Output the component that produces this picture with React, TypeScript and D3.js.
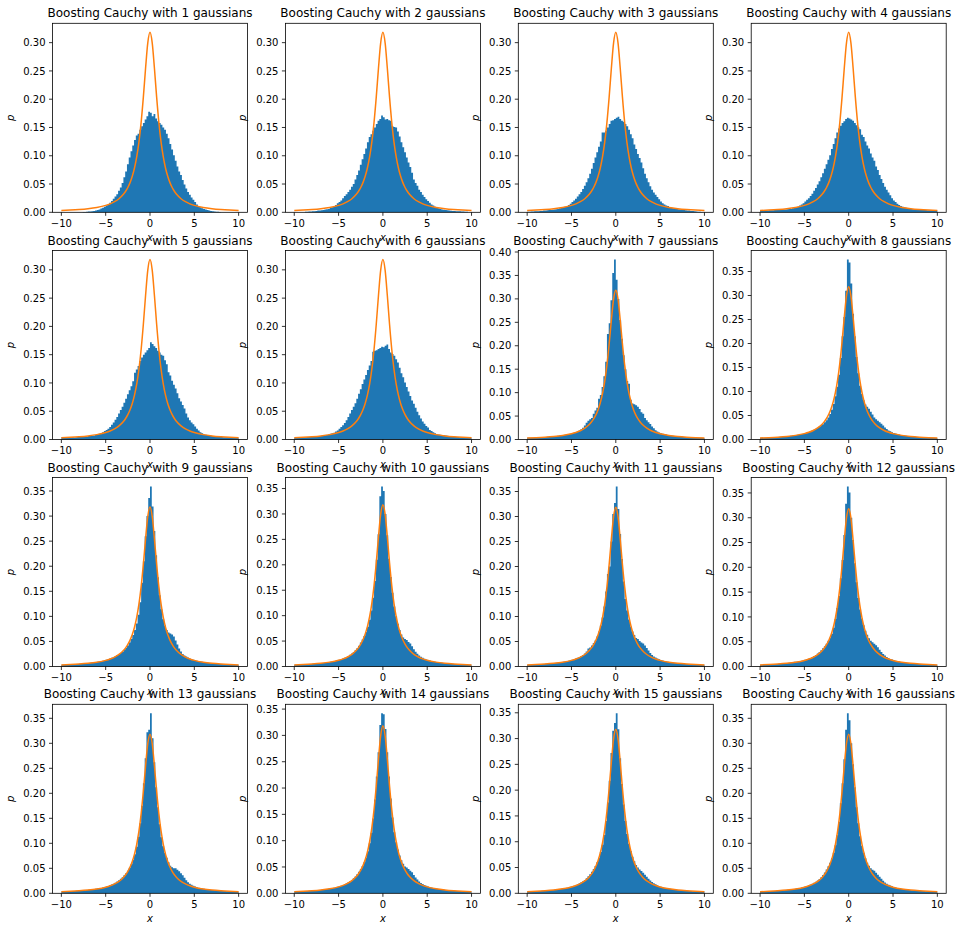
import React from 'react';
import * as d3 from 'd3';

// ---------- data ----------
const N_GAUSSIANS = [1, 2, 3, 4, 5, 6, 7, 8, 9, 10, 11, 12, 13, 14, 15, 16];
const BIN_MIN = -10;
const BIN_MAX = 10;
const X_TICKS = [-10, -5, 0, 5, 10];
const Y_TICK_STEP = 0.05;

// target density (orange line), read at these x positions
const CURVE_X = [-10, -9, -8, -7, -6, -5, -4.5, -4, -3.5, -3, -2.75, -2.5, -2.25, -2, -1.75, -1.5, -1.25, -1, -0.75, -0.5, -0.25,
  0, 0.25, 0.5, 0.75, 1, 1.25, 1.5, 1.75, 2, 2.25, 2.5, 2.75, 3, 3.5, 4, 4.5, 5, 6, 7, 8, 9, 10];
const CURVE_Y = [0.00315, 0.00388, 0.0049, 0.00637, 0.0086, 0.01224, 0.01498, 0.01872, 0.02402, 0.03183, 0.03717, 0.0439, 0.0525, 0.06366, 0.07835, 0.09794, 0.12422, 0.15915, 0.20372, 0.25465, 0.29959,
  0.31831, 0.29959, 0.25465, 0.20372, 0.15915, 0.12422, 0.09794, 0.07835, 0.06366, 0.0525, 0.0439, 0.03717, 0.03183, 0.02402, 0.01872, 0.01498, 0.01224, 0.0086, 0.00637, 0.0049, 0.00388, 0.00315];

// histogram densities, 100 bins from -10 to 10
const H1 = [
  0, 0, 0, 0, 0, 0, 0, 0, 0, 0,
  0, 0, 0.0005, 0.0007, 0.001, 0.0012, 0.0015, 0.002, 0.0024, 0.003,
  0.004, 0.005, 0.0065, 0.008, 0.010, 0.012, 0.014, 0.017, 0.020, 0.024,
  0.028, 0.032, 0.038, 0.044, 0.052, 0.062, 0.072, 0.085, 0.097, 0.108,
  0.118, 0.128, 0.136, 0.139, 0.146, 0.152, 0.158, 0.164, 0.170, 0.178,
  0.176, 0.170, 0.174, 0.166, 0.161, 0.158, 0.155, 0.150, 0.146, 0.139,
  0.131, 0.121, 0.111, 0.101, 0.091, 0.081, 0.072, 0.066, 0.057, 0.049,
  0.042, 0.036, 0.031, 0.026, 0.022, 0.018, 0.014, 0.011, 0.009, 0.007,
  0.006, 0.005, 0.004, 0.003, 0.0025, 0.002, 0.0015, 0.001, 0.0008, 0.0005,
  0, 0, 0, 0, 0, 0, 0, 0, 0, 0,
];
const H2 = [
  0, 0, 0, 0, 0, 0, 0.001, 0.001, 0.0015, 0.0015,
  0.002, 0.002, 0.0025, 0.003, 0.003, 0.0035, 0.004, 0.005, 0.0055, 0.006,
  0.008, 0.009, 0.011, 0.013, 0.016, 0.018, 0.021, 0.025, 0.029, 0.032,
  0.036, 0.040, 0.045, 0.050, 0.058, 0.066, 0.074, 0.084, 0.094, 0.103,
  0.113, 0.124, 0.133, 0.138, 0.144, 0.150, 0.156, 0.162, 0.165, 0.171,
  0.168, 0.164, 0.165, 0.163, 0.162, 0.152, 0.151, 0.150, 0.143, 0.134,
  0.124, 0.115, 0.106, 0.097, 0.088, 0.080, 0.070, 0.058, 0.052, 0.047,
  0.040, 0.036, 0.031, 0.027, 0.023, 0.020, 0.017, 0.014, 0.012, 0.010,
  0.008, 0.007, 0.006, 0.005, 0.0045, 0.004, 0.0035, 0.003, 0.0028, 0.0025,
  0.0022, 0.002, 0.002, 0.0018, 0.0015, 0.0012, 0.001, 0.0008, 0, 0,
];
const H3 = [
  0.001, 0.001, 0.0015, 0.0015, 0.002, 0.002, 0.002, 0.0025, 0.0025, 0.003,
  0.003, 0.0035, 0.004, 0.004, 0.0045, 0.005, 0.0055, 0.006, 0.007, 0.008,
  0.009, 0.010, 0.011, 0.013, 0.015, 0.018, 0.021, 0.024, 0.028, 0.032,
  0.036, 0.041, 0.047, 0.053, 0.060, 0.068, 0.077, 0.087, 0.097, 0.106,
  0.116, 0.125, 0.141, 0.141, 0.144, 0.150, 0.156, 0.162, 0.163, 0.165,
  0.167, 0.169, 0.165, 0.162, 0.160, 0.156, 0.152, 0.146, 0.138, 0.131,
  0.120, 0.112, 0.103, 0.096, 0.088, 0.078, 0.068, 0.060, 0.053, 0.046,
  0.040, 0.035, 0.031, 0.027, 0.023, 0.019, 0.016, 0.014, 0.012, 0.011,
  0.009, 0.008, 0.007, 0.0065, 0.006, 0.0055, 0.005, 0.0045, 0.004, 0.0035,
  0.003, 0.003, 0.0025, 0.0025, 0.002, 0.0015, 0.001, 0.001, 0.0005, 0,
];
const H4 = [
  0.003, 0.003, 0.003, 0.003, 0.003, 0.0035, 0.0035, 0.0035, 0.004, 0.004,
  0.004, 0.0045, 0.0045, 0.005, 0.005, 0.0055, 0.006, 0.006, 0.007, 0.008,
  0.009, 0.010, 0.012, 0.014, 0.016, 0.019, 0.022, 0.025, 0.029, 0.033,
  0.038, 0.043, 0.049, 0.055, 0.062, 0.069, 0.077, 0.085, 0.093, 0.101,
  0.112, 0.121, 0.131, 0.141, 0.148, 0.153, 0.158, 0.161, 0.165, 0.167,
  0.166, 0.164, 0.162, 0.158, 0.154, 0.150, 0.147, 0.137, 0.133, 0.125,
  0.118, 0.113, 0.104, 0.097, 0.091, 0.081, 0.075, 0.066, 0.059, 0.052,
  0.045, 0.040, 0.035, 0.030, 0.025, 0.021, 0.018, 0.015, 0.013, 0.011,
  0.010, 0.009, 0.008, 0.007, 0.0065, 0.006, 0.0055, 0.005, 0.005, 0.0045,
  0.0045, 0.004, 0.004, 0.004, 0.0035, 0.0035, 0.0035, 0.003, 0.003, 0.003,
];
const H5 = [
  0.004, 0.004, 0.0035, 0.0035, 0.004, 0.0035, 0.004, 0.0035, 0.004, 0.0045,
  0.0045, 0.005, 0.005, 0.005, 0.0055, 0.006, 0.006, 0.0065, 0.007, 0.008,
  0.009, 0.010, 0.011, 0.013, 0.015, 0.017, 0.019, 0.022, 0.026, 0.030,
  0.035, 0.040, 0.046, 0.052, 0.058, 0.065, 0.072, 0.080, 0.087, 0.094,
  0.103, 0.118, 0.124, 0.130, 0.139, 0.145, 0.150, 0.154, 0.158, 0.162,
  0.172, 0.169, 0.165, 0.162, 0.157, 0.154, 0.150, 0.148, 0.140, 0.133,
  0.119, 0.113, 0.104, 0.097, 0.090, 0.082, 0.073, 0.067, 0.061, 0.055,
  0.046, 0.039, 0.034, 0.030, 0.027, 0.023, 0.019, 0.016, 0.013, 0.011,
  0.009, 0.0085, 0.008, 0.007, 0.0065, 0.006, 0.0055, 0.005, 0.005, 0.0045,
  0.0045, 0.004, 0.004, 0.004, 0.0035, 0.0035, 0.003, 0.003, 0.003, 0.003,
];
const H6 = [
  0.003, 0.003, 0.0035, 0.0035, 0.004, 0.004, 0.004, 0.0045, 0.0045, 0.005,
  0.005, 0.005, 0.0055, 0.006, 0.006, 0.0065, 0.007, 0.0075, 0.008, 0.009,
  0.010, 0.011, 0.012, 0.014, 0.016, 0.019, 0.022, 0.025, 0.029, 0.034,
  0.040, 0.046, 0.052, 0.058, 0.064, 0.072, 0.081, 0.089, 0.098, 0.106,
  0.114, 0.123, 0.131, 0.139, 0.155, 0.157, 0.158, 0.160, 0.162, 0.164,
  0.163, 0.166, 0.168, 0.160, 0.154, 0.151, 0.148, 0.142, 0.136, 0.127,
  0.117, 0.110, 0.101, 0.093, 0.085, 0.077, 0.069, 0.063, 0.056, 0.049,
  0.043, 0.037, 0.032, 0.028, 0.024, 0.021, 0.017, 0.015, 0.013, 0.011,
  0.0095, 0.009, 0.0085, 0.008, 0.0075, 0.007, 0.0065, 0.006, 0.0055, 0.005,
  0.005, 0.0045, 0.0045, 0.004, 0.004, 0.0035, 0.0035, 0.003, 0.003, 0.003,
];
const H7 = [
  0.0036, 0.0037, 0.0039, 0.0040, 0.0042, 0.0043, 0.0045, 0.0047, 0.0049, 0.0051,
  0.0054, 0.0057, 0.0059, 0.0063, 0.0066, 0.0070, 0.0074, 0.0079, 0.0084, 0.0089,
  0.0095, 0.0101, 0.0108, 0.0116, 0.0125, 0.0135, 0.0146, 0.016, 0.0175, 0.0192,
  0.022, 0.025, 0.030, 0.036, 0.040, 0.043, 0.046, 0.055, 0.062, 0.068,
  0.087, 0.095, 0.112, 0.135, 0.166, 0.225, 0.248, 0.297, 0.355, 0.384,
  0.341, 0.300, 0.255, 0.215, 0.180, 0.150, 0.125, 0.119, 0.085, 0.077,
  0.075, 0.073, 0.070, 0.065, 0.058, 0.055, 0.046, 0.041, 0.037, 0.033,
  0.028, 0.024, 0.020, 0.017, 0.015, 0.0135, 0.0125, 0.0115, 0.0105, 0.0097,
  0.0090, 0.0084, 0.0078, 0.0073, 0.0069, 0.0065, 0.0061, 0.0058, 0.0055, 0.0052,
  0.0049, 0.0047, 0.0045, 0.0043, 0.0041, 0.0039, 0.0037, 0.0036, 0.0035, 0.0034,
];
const H8 = [
  0.0034, 0.0035, 0.0037, 0.0038, 0.0040, 0.0042, 0.0044, 0.0046, 0.0048, 0.0050,
  0.0052, 0.0055, 0.0058, 0.0061, 0.0064, 0.0068, 0.0072, 0.0077, 0.0082, 0.0087,
  0.0093, 0.0099, 0.0106, 0.0113, 0.0122, 0.0132, 0.0143, 0.0156, 0.0170, 0.0186,
  0.0203, 0.0222, 0.0245, 0.027, 0.030, 0.032, 0.036, 0.040, 0.046, 0.053,
  0.062, 0.074, 0.090, 0.110, 0.135, 0.170, 0.215, 0.255, 0.310, 0.375,
  0.369, 0.325, 0.262, 0.215, 0.172, 0.138, 0.112, 0.095, 0.082, 0.073,
  0.068, 0.064, 0.058, 0.052, 0.046, 0.042, 0.039, 0.036, 0.033, 0.029,
  0.025, 0.022, 0.019, 0.017, 0.015, 0.0138, 0.0126, 0.0115, 0.0105, 0.0096,
  0.0089, 0.0083, 0.0077, 0.0072, 0.0068, 0.0064, 0.0060, 0.0057, 0.0054, 0.0051,
  0.0049, 0.0046, 0.0044, 0.0042, 0.0040, 0.0039, 0.0037, 0.0036, 0.0034, 0.0033,
];
const H9 = [
  0.0035, 0.0036, 0.0037, 0.0039, 0.0040, 0.0042, 0.0044, 0.0046, 0.0048, 0.0050,
  0.0053, 0.0055, 0.0058, 0.0061, 0.0065, 0.0069, 0.0073, 0.0078, 0.0083, 0.0088,
  0.0094, 0.0100, 0.0107, 0.0115, 0.0124, 0.0134, 0.0146, 0.0159, 0.0174, 0.019,
  0.021, 0.023, 0.025, 0.027, 0.029, 0.033, 0.037, 0.042, 0.048, 0.055,
  0.063, 0.073, 0.086, 0.103, 0.128, 0.167, 0.210, 0.260, 0.300, 0.336,
  0.359, 0.319, 0.270, 0.222, 0.178, 0.142, 0.114, 0.094, 0.082, 0.073,
  0.068, 0.066, 0.064, 0.060, 0.052, 0.044, 0.036, 0.030, 0.025, 0.022,
  0.020, 0.018, 0.016, 0.0145, 0.0135, 0.0125, 0.0115, 0.0107, 0.0099, 0.0093,
  0.0087, 0.0081, 0.0076, 0.0071, 0.0067, 0.0063, 0.0060, 0.0057, 0.0054, 0.0051,
  0.0048, 0.0046, 0.0044, 0.0042, 0.0040, 0.0038, 0.0037, 0.0035, 0.0034, 0.0033,
];
const H10 = [
  0.0033, 0.0034, 0.0036, 0.0037, 0.0039, 0.0041, 0.0043, 0.0045, 0.0047, 0.0049,
  0.0052, 0.0054, 0.0057, 0.0060, 0.0064, 0.0067, 0.0071, 0.0076, 0.0081, 0.0086,
  0.0092, 0.0098, 0.0105, 0.0113, 0.0122, 0.0132, 0.0143, 0.0156, 0.0171, 0.0188,
  0.0207, 0.0229, 0.0254, 0.0283, 0.0318, 0.036, 0.041, 0.047, 0.053, 0.060,
  0.068, 0.078, 0.092, 0.110, 0.135, 0.168, 0.210, 0.260, 0.335, 0.354,
  0.345, 0.300, 0.258, 0.212, 0.176, 0.145, 0.118, 0.099, 0.084, 0.072,
  0.063, 0.057, 0.054, 0.052, 0.048, 0.045, 0.040, 0.034, 0.029, 0.025,
  0.0215, 0.019, 0.017, 0.0152, 0.0138, 0.0127, 0.0117, 0.0108, 0.0100, 0.0093,
  0.0087, 0.0082, 0.0077, 0.0072, 0.0068, 0.0064, 0.0061, 0.0057, 0.0054, 0.0052,
  0.0049, 0.0047, 0.0045, 0.0043, 0.0041, 0.0039, 0.0037, 0.0036, 0.0034, 0.0033,
];
const H11 = [
  0.0034, 0.0035, 0.0037, 0.0038, 0.0040, 0.0042, 0.0044, 0.0046, 0.0048, 0.0050,
  0.0053, 0.0055, 0.0058, 0.0062, 0.0065, 0.0069, 0.0073, 0.0078, 0.0083, 0.0088,
  0.0094, 0.0100, 0.0107, 0.0115, 0.0124, 0.0134, 0.0146, 0.0159, 0.0175, 0.0192,
  0.021, 0.023, 0.026, 0.030, 0.036, 0.038, 0.042, 0.047, 0.052, 0.060,
  0.070, 0.082, 0.098, 0.120, 0.150, 0.185, 0.200, 0.250, 0.305, 0.327,
  0.360, 0.315, 0.265, 0.215, 0.170, 0.135, 0.112, 0.094, 0.080, 0.070,
  0.063, 0.057, 0.055, 0.051, 0.048, 0.046, 0.042, 0.037, 0.032, 0.027,
  0.023, 0.020, 0.018, 0.016, 0.0145, 0.013, 0.012, 0.011, 0.0102, 0.0095,
  0.0088, 0.0082, 0.0077, 0.0072, 0.0068, 0.0064, 0.0061, 0.0058, 0.0055, 0.0052,
  0.0049, 0.0047, 0.0045, 0.0043, 0.0041, 0.0039, 0.0037, 0.0036, 0.0034, 0.0033,
];
const H12 = [
  0.0034, 0.0036, 0.0037, 0.0039, 0.0040, 0.0042, 0.0044, 0.0046, 0.0048, 0.0051,
  0.0053, 0.0056, 0.0059, 0.0062, 0.0066, 0.0070, 0.0074, 0.0079, 0.0084, 0.0095,
  0.0094, 0.0100, 0.0107, 0.0115, 0.0124, 0.0134, 0.0145, 0.0158, 0.0173, 0.019,
  0.021, 0.023, 0.026, 0.029, 0.033, 0.037, 0.041, 0.046, 0.052, 0.058,
  0.066, 0.078, 0.096, 0.118, 0.142, 0.178, 0.215, 0.265, 0.328, 0.363,
  0.351, 0.300, 0.255, 0.208, 0.170, 0.138, 0.115, 0.097, 0.083, 0.072,
  0.064, 0.057, 0.052, 0.049, 0.046, 0.043, 0.039, 0.034, 0.029, 0.025,
  0.022, 0.019, 0.017, 0.0153, 0.0139, 0.0127, 0.0117, 0.0108, 0.0100, 0.0093,
  0.0087, 0.0081, 0.0076, 0.0072, 0.0068, 0.0064, 0.0060, 0.0057, 0.0054, 0.0051,
  0.0049, 0.0047, 0.0044, 0.0042, 0.0040, 0.0039, 0.0037, 0.0036, 0.0034, 0.0033,
];
const H13 = [
  0.0035, 0.0036, 0.0037, 0.0039, 0.0041, 0.0042, 0.0044, 0.0046, 0.0049, 0.0051,
  0.0053, 0.0056, 0.0059, 0.0062, 0.0066, 0.0069, 0.0074, 0.0078, 0.0083, 0.0089,
  0.0095, 0.0101, 0.0108, 0.0116, 0.0125, 0.0135, 0.0147, 0.016, 0.0175, 0.0192,
  0.0212, 0.0234, 0.026, 0.029, 0.032, 0.036, 0.040, 0.045, 0.051, 0.058,
  0.067, 0.078, 0.093, 0.113, 0.140, 0.175, 0.220, 0.270, 0.322, 0.327,
  0.360, 0.310, 0.262, 0.212, 0.172, 0.138, 0.112, 0.094, 0.081, 0.071,
  0.062, 0.055, 0.052, 0.050, 0.050, 0.047, 0.044, 0.040, 0.036, 0.031,
  0.026, 0.022, 0.019, 0.017, 0.015, 0.0135, 0.0123, 0.0112, 0.0103, 0.0096,
  0.0089, 0.0083, 0.0077, 0.0072, 0.0068, 0.0064, 0.0060, 0.0057, 0.0054, 0.0051,
  0.0049, 0.0046, 0.0044, 0.0042, 0.0040, 0.0038, 0.0037, 0.0035, 0.0034, 0.0033,
];
const H14 = [
  0.0034, 0.0035, 0.0037, 0.0038, 0.0040, 0.0042, 0.0043, 0.0045, 0.0048, 0.0050,
  0.0052, 0.0055, 0.0058, 0.0061, 0.0065, 0.0068, 0.0072, 0.0077, 0.0082, 0.0087,
  0.0093, 0.0099, 0.0106, 0.0114, 0.0123, 0.0133, 0.0145, 0.0158, 0.0173, 0.019,
  0.021, 0.023, 0.0255, 0.0285, 0.032, 0.036, 0.041, 0.046, 0.052, 0.059,
  0.068, 0.080, 0.095, 0.115, 0.142, 0.178, 0.222, 0.268, 0.320, 0.342,
  0.340, 0.312, 0.268, 0.222, 0.180, 0.144, 0.116, 0.097, 0.083, 0.072,
  0.063, 0.056, 0.051, 0.049, 0.046, 0.043, 0.040, 0.035, 0.030, 0.026,
  0.0225, 0.0198, 0.0175, 0.0157, 0.0142, 0.0129, 0.0118, 0.0109, 0.0101, 0.0094,
  0.0088, 0.0082, 0.0077, 0.0072, 0.0068, 0.0064, 0.0060, 0.0057, 0.0054, 0.0051,
  0.0049, 0.0046, 0.0044, 0.0042, 0.0040, 0.0039, 0.0037, 0.0036, 0.0034, 0.0033,
];
const H15 = [
  0.0035, 0.0036, 0.0038, 0.0039, 0.0041, 0.0042, 0.0044, 0.0046, 0.0049, 0.0051,
  0.0053, 0.0056, 0.0059, 0.0062, 0.0066, 0.0070, 0.0074, 0.0078, 0.0083, 0.0089,
  0.0095, 0.0101, 0.0108, 0.0116, 0.0125, 0.0135, 0.0147, 0.0161, 0.0176, 0.0193,
  0.0212, 0.0235, 0.026, 0.029, 0.033, 0.037, 0.042, 0.047, 0.053, 0.060,
  0.069, 0.080, 0.094, 0.113, 0.140, 0.176, 0.218, 0.272, 0.315, 0.330,
  0.349, 0.318, 0.262, 0.212, 0.172, 0.140, 0.115, 0.096, 0.082, 0.071,
  0.062, 0.055, 0.050, 0.046, 0.043, 0.040, 0.036, 0.032, 0.028, 0.025,
  0.022, 0.0195, 0.0174, 0.0156, 0.0141, 0.0129, 0.0118, 0.0109, 0.0101, 0.0094,
  0.0088, 0.0082, 0.0077, 0.0072, 0.0068, 0.0064, 0.0060, 0.0057, 0.0054, 0.0051,
  0.0049, 0.0046, 0.0044, 0.0042, 0.0040, 0.0039, 0.0037, 0.0036, 0.0034, 0.0033,
];
const H16 = [
  0.0034, 0.0035, 0.0037, 0.0038, 0.0040, 0.0042, 0.0044, 0.0046, 0.0048, 0.0050,
  0.0052, 0.0055, 0.0058, 0.0061, 0.0065, 0.0069, 0.0073, 0.0077, 0.0082, 0.0088,
  0.0094, 0.0100, 0.0107, 0.0115, 0.0124, 0.0134, 0.0146, 0.0159, 0.0174, 0.0191,
  0.021, 0.0232, 0.0257, 0.0287, 0.0322, 0.0365, 0.0415, 0.0475, 0.054, 0.061,
  0.070, 0.081, 0.096, 0.116, 0.143, 0.180, 0.220, 0.268, 0.327, 0.360,
  0.346, 0.300, 0.258, 0.212, 0.172, 0.140, 0.114, 0.095, 0.081, 0.070,
  0.061, 0.055, 0.050, 0.047, 0.045, 0.041, 0.037, 0.033, 0.029, 0.025,
  0.0218, 0.0193, 0.0172, 0.0155, 0.014, 0.0128, 0.0117, 0.0108, 0.01, 0.0093,
  0.0087, 0.0081, 0.0076, 0.0071, 0.0067, 0.0063, 0.006, 0.0057, 0.0054, 0.0051,
  0.0049, 0.0046, 0.0044, 0.0042, 0.004, 0.0038, 0.0037, 0.0035, 0.0034, 0.0033,
];
const HISTS = [H1, H2, H3, H4, H5, H6, H7, H8, H9, H10, H11, H12, H13, H14, H15, H16];

// ---------- layout ----------
const WIDTH = 962;
const HEIGHT = 931;
const COL_LEFT = [52.5, 285.4, 518.3, 751.2];
const ROW_TOP = [23.3, 250.5, 477.5, 704.3];
const AX_W = 195;
const AX_H = 189;
const FONT = "'DejaVu Sans', sans-serif";
const BAR_COLOR = '#1f77b4';
const LINE_COLOR = '#ff7f0e';

function Panel({ idx }: { idx: number }) {
  const hist = HISTS[idx];
  const n = N_GAUSSIANS[idx];
  const left = COL_LEFT[idx % 4];
  const top = ROW_TOP[Math.floor(idx / 4)];
  const nb = hist.length;
  const binW = (BIN_MAX - BIN_MIN) / nb;
  const span = BIN_MAX - BIN_MIN;
  const x = d3.scaleLinear().domain([BIN_MIN - span * 0.05, BIN_MAX + span * 0.05]).range([0, AX_W]);
  const yMax = Math.max(d3.max(hist) as number, d3.max(CURVE_Y) as number) * 1.05;
  const y = d3.scaleLinear().domain([0, yMax]).range([AX_H, 0]);

  // histogram outline path
  const path = d3.path();
  path.moveTo(x(BIN_MIN), y(0));
  hist.forEach((v, i) => {
    const x0 = BIN_MIN + i * binW;
    const x1 = x0 + binW;
    path.lineTo(x(x0), y(v));
    path.lineTo(x(x1), y(v));
  });
  path.lineTo(x(BIN_MAX), y(0));
  path.closePath();

  const line = d3
    .line<number>()
    .x((_, i) => x(CURVE_X[i]))
    .y((d) => y(d))
    .curve(d3.curveMonotoneX);

  const nTicks = Math.floor(yMax / Y_TICK_STEP + 1e-9);
  const yTicks = d3.range(0, nTicks + 1).map((k) => k * Y_TICK_STEP);
  const fmt = (v: number) => (v < 0 ? '\u2212' + Math.abs(v) : String(v));

  return (
    <g transform={`translate(${left},${top})`}>
      <path d={path.toString()} fill={BAR_COLOR} stroke="none" />
      <path d={line(CURVE_Y) || ''} fill="none" stroke={LINE_COLOR} strokeWidth={1.5} />
      <rect x={0} y={0} width={AX_W} height={AX_H} fill="none" stroke="#000" strokeWidth={0.8} />
      {X_TICKS.map((t) => (
        <g key={'x' + t}>
          <line x1={x(t)} x2={x(t)} y1={AX_H} y2={AX_H + 3.5} stroke="#000" strokeWidth={0.8} />
          <text x={x(t)} y={AX_H + 14.3} textAnchor="middle" fontSize={10} fontFamily={FONT} fill="#000">
            {fmt(t)}
          </text>
        </g>
      ))}
      {yTicks.map((t) => (
        <g key={'y' + t}>
          <line x1={-3.5} x2={0} y1={y(t)} y2={y(t)} stroke="#000" strokeWidth={0.8} />
          <text x={-7} y={y(t) + 3.6} textAnchor="end" fontSize={10} fontFamily={FONT} fill="#000">
            {t.toFixed(2)}
          </text>
        </g>
      ))}
      <text x={AX_W / 2} y={-6} textAnchor="middle" fontSize={12} fontFamily={FONT} fill="#000">
        {`Boosting Cauchy with ${n} gaussians`}
      </text>
      <text x={AX_W / 2} y={AX_H + 28.5} textAnchor="middle" fontSize={10} fontStyle="italic" fontFamily={FONT} fill="#000">
        x
      </text>
      <text
        transform={`translate(${-39},${AX_H / 2}) rotate(-90)`}
        textAnchor="middle"
        fontSize={10}
        fontStyle="italic"
        fontFamily={FONT}
        fill="#000"
      >
        p
      </text>
    </g>
  );
}

export default function App() {
  return (
    <svg
      width={WIDTH}
      height={HEIGHT}
      viewBox={`0 0 ${WIDTH} ${HEIGHT}`}
      style={{ position: 'absolute', left: 0, top: 0, background: '#fff' }}
    >
      <rect x={0} y={0} width={WIDTH} height={HEIGHT} fill="#fff" />
      {N_GAUSSIANS.map((_, i) => (
        <Panel key={i} idx={i} />
      ))}
    </svg>
  );
}
